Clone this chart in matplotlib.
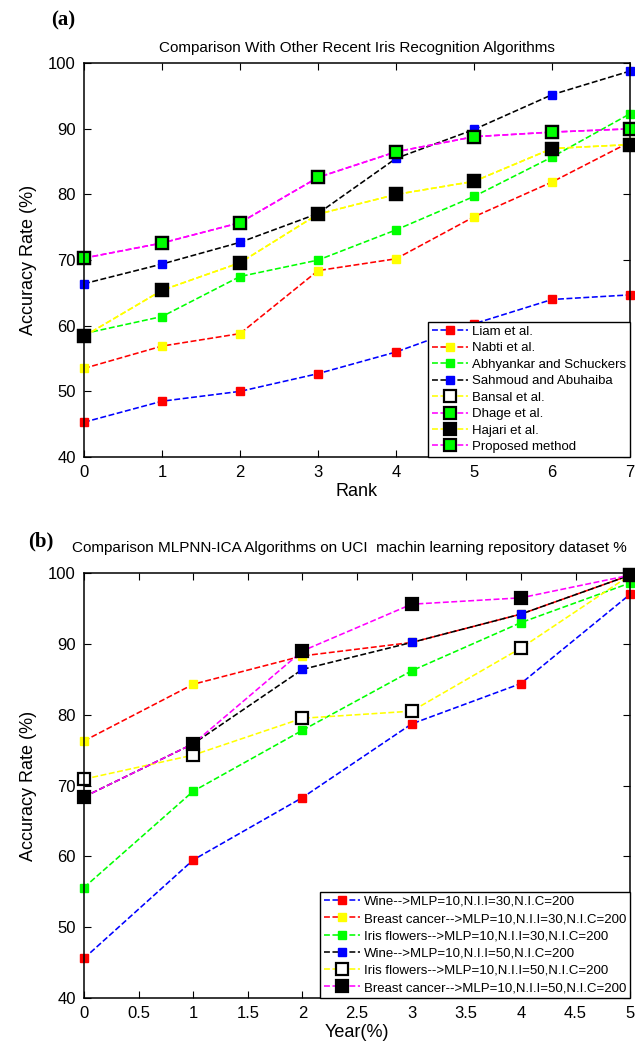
import matplotlib.pyplot as plt
import numpy as np

plt.rcParams['font.family'] = ['Liberation Sans', 'DejaVu Sans']

# ---- panel (a) data ----
rank = [0, 1, 2, 3, 4, 5, 6, 7]
liam = [45.3, 48.5, 50.0, 52.7, 56.0, 60.3, 64.0, 64.7]
nabti = [53.5, 56.9, 58.8, 68.4, 70.2, 76.6, 81.9, 88.0]
abhyankar = [58.8, 61.4, 67.5, 70.0, 74.6, 79.7, 85.7, 92.3]
sahmoud = [66.4, 69.4, 72.7, 77.1, 85.5, 89.9, 95.2, 98.8]
bansal = [58.4, 65.4, 69.6, 77.0, 80.0, 82.0, 87.0, 87.6]
dhage = [70.3, 72.6, 75.7, 82.6, 86.5, 88.8, 89.5, 90.0]
hajari = [58.4, 65.4, 69.6, 77.0, 80.0, 82.0, 87.0, 87.6]
proposed = [70.3, 72.6, 75.7, 82.6, 86.5, 88.8, 89.5, 90.0]

# ---- panel (b) data ----
year = [0, 1, 2, 3, 4, 5]
wine30 = [45.6, 59.5, 68.3, 78.7, 84.4, 97.0]
breast30 = [76.3, 84.3, 88.3, 90.2, 94.2, 99.7]
iris30 = [55.6, 69.2, 77.8, 86.2, 93.0, 98.6]
wine50 = [68.4, 75.9, 86.4, 90.2, 94.2, 99.7]
iris50 = [70.9, 74.3, 79.5, 80.5, 89.4, 99.7]
breast50 = [68.4, 75.9, 89.0, 95.6, 96.5, 99.7]

# (label, values, line colour, marker face, big marker?)
series_a = [
    ("Liam et al.", liam, "blue", "red", False),
    ("Nabti et al.", nabti, "red", "yellow", False),
    ("Abhyankar and Schuckers", abhyankar, "lime", "lime", False),
    ("Sahmoud and Abuhaiba", sahmoud, "black", "blue", False),
    ("Bansal et al.", bansal, "yellow", "white", True),
    ("Dhage et al.", dhage, "magenta", "lime", True),
    ("Hajari et al.", hajari, "yellow", "black", True),
    ("Proposed method", proposed, "magenta", "lime", True),
]
series_b = [
    ("Wine-->MLP=10,N.I.I=30,N.I.C=200", wine30, "blue", "red", False),
    ("Breast cancer-->MLP=10,N.I.I=30,N.I.C=200", breast30, "red", "yellow", False),
    ("Iris flowers-->MLP=10,N.I.I=30,N.I.C=200", iris30, "lime", "lime", False),
    ("Wine-->MLP=10,N.I.I=50,N.I.C=200", wine50, "black", "blue", False),
    ("Iris flowers-->MLP=10,N.I.I=50,N.I.C=200", iris50, "yellow", "white", True),
    ("Breast cancer-->MLP=10,N.I.I=50,N.I.C=200", breast50, "magenta", "black", True),
]


def draw(ax, x, series):
    for label, vals, lc, mfc, big in series:
        if big:
            ax.plot(x, vals, linestyle="--", color=lc, linewidth=1.15,
                    marker="s", markersize=8, markerfacecolor=mfc,
                    markeredgecolor="black", markeredgewidth=1.6,
                    label=label, clip_on=False)
        else:
            ax.plot(x, vals, linestyle="--", color=lc, linewidth=1.15,
                    marker="s", markersize=5.3, markerfacecolor=mfc,
                    markeredgecolor=mfc, label=label, clip_on=False)


def style(ax):
    ax.set_ylim(40, 100)
    ax.set_yticks(np.arange(40, 101, 10))
    ax.tick_params(direction="in", top=True, right=True, labelsize=12,
                   length=5, width=0.8, pad=6)
    for s in ax.spines.values():
        s.set_linewidth(1.1)
    ax.set_ylabel("Accuracy Rate (%)", fontsize=13, labelpad=8)


fig = plt.figure(figsize=(6.35, 10.53), dpi=100)

ax1 = fig.add_axes([0.1323, 0.566, 0.860, 0.374])
draw(ax1, rank, series_a)
ax1.set_xlim(0, 7)
ax1.set_xticks(rank)
style(ax1)
ax1.set_xlabel("Rank", fontsize=13, labelpad=2)
ax1.set_title("Comparison With Other Recent Iris Recognition Algorithms",
              fontsize=11, pad=8)
leg1 = ax1.legend(loc="lower right", fontsize=9.5, borderaxespad=0,
                  fancybox=False, framealpha=1, edgecolor="black",
                  handlelength=2.7, handletextpad=0.3, labelspacing=0.32,
                  borderpad=0.3)
leg1.get_frame().set_linewidth(1.0)

ax2 = fig.add_axes([0.1323, 0.0522, 0.860, 0.4036])
draw(ax2, year, series_b)
ax2.set_xlim(0, 5)
ax2.set_xticks(np.arange(0, 5.01, 0.5))
ax2.set_xticklabels(["0", "0.5", "1", "1.5", "2", "2.5", "3", "3.5", "4", "4.5", "5"])
style(ax2)
ax2.set_xlabel("Year(%)", fontsize=13, labelpad=2)
leg2 = ax2.legend(loc="lower right", fontsize=9.5, borderaxespad=0,
                  fancybox=False, framealpha=1, edgecolor="black",
                  handlelength=2.7, handletextpad=0.3, labelspacing=0.38,
                  borderpad=0.3)
leg2.get_frame().set_linewidth(1.0)

fig.text(0.08, 0.981, "(a)", fontsize=15, fontweight="bold",
         family="Liberation Serif", va="center", ha="left")
fig.text(0.044, 0.486, "(b)", fontsize=15, fontweight="bold",
         family="Liberation Serif", va="center", ha="left")
fig.text(0.113, 0.480, "Comparison MLPNN-ICA Algorithms on UCI  machin learning repository dataset %",
         fontsize=11, va="center", ha="left")

fig.savefig("out.png", dpi=100)
